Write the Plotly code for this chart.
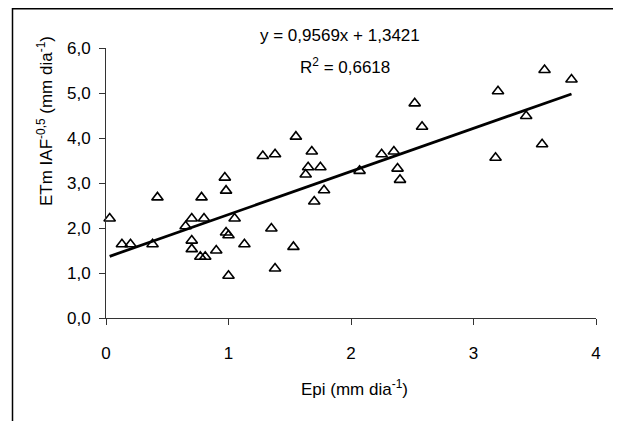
import plotly.graph_objects as go

# Data
epi = [0.03, 0.13, 0.20, 0.38, 0.42, 0.65, 0.70, 0.70, 0.70, 0.78, 0.80, 0.77, 0.81,
       0.90, 0.97, 0.98, 0.98, 1.00, 1.00, 1.05, 1.13, 1.28, 1.38, 1.35, 1.38,
       1.55, 1.68, 1.65, 1.63, 1.75, 1.78, 1.70, 1.53, 2.07, 2.25, 2.35, 2.38,
       2.40, 2.52, 2.58, 3.20, 3.18, 3.43, 3.56, 3.58, 3.80]
etm = [2.21, 1.64, 1.64, 1.64, 2.68, 2.04, 2.21, 1.72, 1.53, 2.68, 2.21, 1.36, 1.36,
       1.50, 3.12, 2.83, 1.90, 1.84, 0.94, 2.21, 1.64, 3.60, 3.64, 1.99, 1.10,
       4.03, 3.70, 3.35, 3.19, 3.35, 2.84, 2.59, 1.58, 3.27, 3.64, 3.70, 3.32,
       3.07, 4.77, 4.25, 5.04, 3.56, 4.49, 3.86, 5.51, 5.30]

slope = 0.9569
intercept = 1.3421
r2_text = "0,6618"

x_ticks = [0, 1, 2, 3, 4]
x_tick_labels = ["0", "1", "2", "3", "4"]
y_ticks = [0, 1, 2, 3, 4, 5, 6]
y_tick_labels = ["0,0", "1,0", "2,0", "3,0", "4,0", "5,0", "6,0"]

FONT = "Liberation Sans, Arial, sans-serif"

# plot area in page pixels: x 106..596, y 48..318 (page has 8px body offset)
PX0, PW, PY1, PH = 106, 490, 318, 270


def px(v):
    return (v - PX0) / PW


def py(v):
    return (PY1 - v) / PH


fig = go.Figure()
fig.add_trace(go.Scatter(
    x=epi, y=etm, mode="markers",
    marker=dict(symbol="triangle-up-open", size=10, color="black",
                line=dict(width=1.6, color="black")),
    showlegend=False, cliponaxis=False,
))
xl = [min(epi), max(epi)]
fig.add_trace(go.Scatter(
    x=xl, y=[slope * v + intercept for v in xl], mode="lines",
    line=dict(color="black", width=2.8), showlegend=False,
))

fig.update_layout(
    width=621, height=421, autosize=False,
    margin=dict(l=98, r=33, t=40, b=111),
    paper_bgcolor="white", plot_bgcolor="white",
    font=dict(family=FONT, size=16, color="black"),
    xaxis=dict(range=[0, 4], tickvals=x_ticks, ticktext=x_tick_labels,
               showgrid=False, zeroline=False, showline=True, linecolor="#333",
               linewidth=1, ticks="outside", ticklen=6, tickcolor="#333",
               ticklabelstandoff=14, tickfont=dict(size=17)),
    yaxis=dict(range=[0, 6], tickvals=y_ticks, ticktext=y_tick_labels,
               showgrid=False, zeroline=False, showline=True, linecolor="#333",
               linewidth=1, ticks="outside", ticklen=6, tickcolor="#333",
               ticklabelstandoff=5, tickfont=dict(size=17)),
    shapes=[dict(type="rect", xref="paper", yref="paper",
                 x0=px(12.5), x1=px(616.5),
                 y0=py(445), y1=py(8.8),
                 line=dict(color="black", width=1.5), layer="below")],
    annotations=[
        dict(text="ETm IAF<sup>-0,5</sup> (mm dia<sup>-1</sup>)", textangle=-90,
             xref="paper", yref="paper", x=px(45), y=py(121),
             showarrow=False, xanchor="center", yanchor="middle",
             font=dict(size=17)),
        dict(text="Epi (mm dia<sup>-1</sup>)",
             xref="paper", yref="paper", x=px(354), y=py(388),
             showarrow=False, xanchor="center", yanchor="middle",
             font=dict(size=17)),
        dict(text="y = 0,9569x + 1,3421",
             xref="paper", yref="paper", x=px(340), y=py(36),
             showarrow=False, xanchor="center", yanchor="middle",
             font=dict(size=17)),
        dict(text="R<sup>2</sup> = " + r2_text,
             xref="paper", yref="paper", x=px(345), y=py(66),
             showarrow=False, xanchor="center", yanchor="middle",
             font=dict(size=17)),
    ],
)

fig.write_html("out.html")
